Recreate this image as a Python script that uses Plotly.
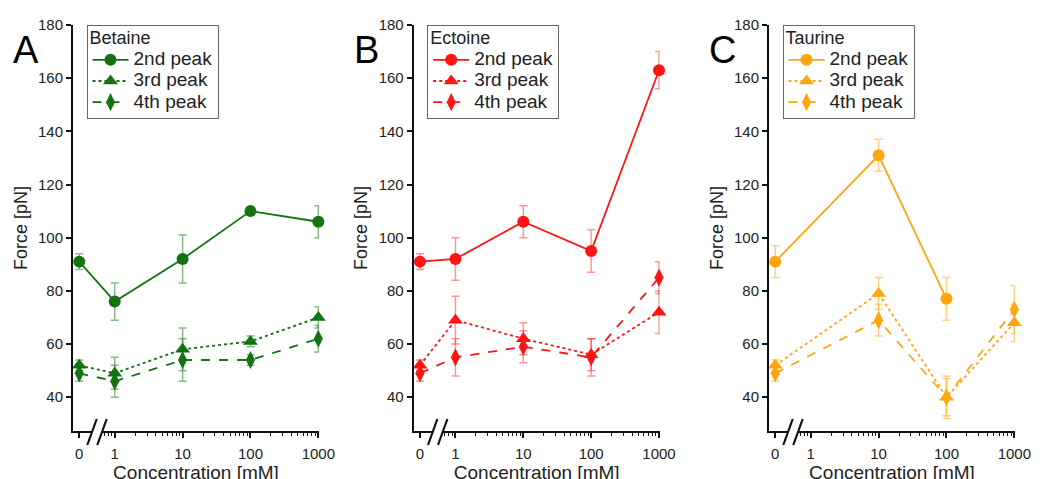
import plotly.graph_objects as go

# ---------------- data ----------------
concentrations = [0, 1, 10, 100, 1000]          # mM
ZERO_POS = 0.3                                   # where "0 mM" sits left of the axis break

tick_vals = [ZERO_POS, 1, 10, 100, 1000]
tick_text = ["0", "1", "10", "100", "1000"]
minor_vals = [0.7, 0.8, 0.9] + [m * d for d in (1, 10, 100) for m in range(2, 10)]

peaks = ["2nd peak", "3rd peak", "4th peak"]

betaine_2nd = [91, 76, 92, 110, 106]
betaine_2nd_err = [3, 7, 9, 1.5, 6]
betaine_3rd = [52, 49, 58, 61, 70]
betaine_3rd_err = [2, 6, 8, 2, 4]
betaine_4th = [49, 46, 54, 54, 62]
betaine_4th_err = [3, 6, 8, 2, 5]

ectoine_2nd = [91, 92, 106, 95, 163]
ectoine_2nd_err = [3, 8, 6, 8, 7]
ectoine_3rd = [52, 69, 62, 56, 72]
ectoine_3rd_err = [2, 9, 6, 6, 8]
ectoine_4th = [49, 55, 59, 55, 85]
ectoine_4th_err = [3, 7, 6, 7, 6]

taurine_2nd = [91, None, 131, 77, None]
taurine_2nd_err = [6, None, 6, 8, None]
taurine_3rd = [52, None, 79, 40, 68]
taurine_3rd_err = [2, None, 6, 8, 7]
taurine_4th = [49, None, 69, 40, 73]
taurine_4th_err = [3, None, 6, 7, 9]

panels = [
    dict(name="Betaine", letter="A", color="#137313", err="rgba(19,115,19,0.5)",
         series=[(betaine_2nd, betaine_2nd_err), (betaine_3rd, betaine_3rd_err), (betaine_4th, betaine_4th_err)]),
    dict(name="Ectoine", letter="B", color="#ff1414", err="rgba(255,20,20,0.45)",
         series=[(ectoine_2nd, ectoine_2nd_err), (ectoine_3rd, ectoine_3rd_err), (ectoine_4th, ectoine_4th_err)]),
    dict(name="Taurine", letter="C", color="#ffa60d", err="rgba(255,166,13,0.5)",
         series=[(taurine_2nd, taurine_2nd_err), (taurine_3rd, taurine_3rd_err), (taurine_4th, taurine_4th_err)]),
]

# ---------------- layout geometry (window pixels) ----------------
W, H = 1041, 479
OFF = 8  # page body margin offsets the figure inside the window


def px(xp):
    return (xp - OFF) / W


def py(yp):
    return 1 - (yp - OFF) / H


axis_left_px = [73, 413.7, 769]
axis_width_px = 246
plot_top_px, plot_bottom_px = 25, 431
ydom = [py(plot_bottom_px), py(plot_top_px)]

FONT = "Liberation Sans, Arial, Helvetica, sans-serif"
styles = [("solid", "circle", 12), ("dot", "triangle-up", 13), ("dash", "diamond-tall", 13)]


def big(t):
    return '<span style="font-size:19px">' + t + "</span>"


fig = go.Figure()
layout = dict(
    width=W, height=H, margin=dict(l=0, r=0, t=0, b=0, autoexpand=False),
    paper_bgcolor="white", plot_bgcolor="white",
    font=dict(family=FONT, size=15, color="#222"),
    showlegend=True,
)
shapes = []
annotations = []

for i, p in enumerate(panels):
    n = "" if i == 0 else str(i + 1)
    xa, ya = "x" + n, "y" + n
    lg = "legend" + n
    for k, (vals, errs) in enumerate(p["series"]):
        dash, sym, msize = styles[k]
        xs, ys, es = [], [], []
        for c, v, e in zip(concentrations, vals, errs):
            if v is None:
                continue
            xs.append(ZERO_POS if c == 0 else c)
            ys.append(v)
            es.append(e)
        fig.add_trace(go.Scatter(
            x=xs, y=ys, mode="lines+markers", name=big(peaks[k]),
            xaxis=xa, yaxis=ya, legend=lg,
            line=dict(color=p["color"], width=1.8, dash=dash),
            marker=dict(symbol=sym, size=msize, color=p["color"]),
            error_y=dict(type="data", array=es, visible=True, color=p["err"],
                         thickness=1.5, width=4),
            cliponaxis=False,
        ))

    layout["xaxis" + n] = dict(
        domain=[px(axis_left_px[i]), px(axis_left_px[i] + axis_width_px)],
        anchor=ya, type="log", range=[-0.615, 3.01], automargin=False,
        tickmode="array", tickvals=tick_vals, ticktext=tick_text,
        ticks="outside", ticklen=5, tickwidth=1.5, tickcolor="#111",
        minor=dict(tickmode="array", tickvals=minor_vals, ticks="outside",
                   ticklen=3, tickwidth=1.2, tickcolor="#111"),
        showline=True, linecolor="#111", linewidth=2, showgrid=False, zeroline=False,
        tickfont=dict(size=15, color="#222"), ticklabelstandoff=3,
        title=dict(text="Concentration [mM]", font=dict(size=19, color="#222"), standoff=4),
    )
    layout["yaxis" + n] = dict(
        domain=ydom, anchor=xa, range=[27.3, 180], automargin=False,
        tickmode="array", tickvals=[40, 60, 80, 100, 120, 140, 160, 180],
        ticks="outside", ticklen=5, tickwidth=1.5, tickcolor="#111",
        showline=True, linecolor="#111", linewidth=2, showgrid=False, zeroline=False,
        tickfont=dict(size=15, color="#222"), ticklabelstandoff=0,
        title=dict(text="Force [pN]", font=dict(size=18, color="#222"), standoff=6),
    )
    layout[lg] = dict(
        x=px(axis_left_px[i] + 13.5), y=py(plot_top_px), xanchor="left", yanchor="top",
        bgcolor="white", bordercolor="#666", borderwidth=1,
        font=dict(size=14, color="#222", family=FONT),
        title=dict(text='<span style="font-size:18px">' + p["name"] + "</span>",
                   font=dict(size=14, color="#222", family=FONT)),
        tracegroupgap=0, itemwidth=36,
    )
    annotations.append(dict(
        text=p["letter"], xref="paper", yref="paper",
        x=px(axis_left_px[i] - 47), y=py(50), xanchor="center", yanchor="middle",
        showarrow=False, font=dict(size=38, color="black", family=FONT),
    ))

    # axis break "//"
    ax0 = axis_left_px[i]
    yb = plot_bottom_px
    shapes.append(dict(type="rect", xref="paper", yref="paper", layer="above",
                       x0=px(ax0 + 18.5), x1=px(ax0 + 29),
                       y0=py(yb + 6), y1=py(yb - 2),
                       fillcolor="white", line=dict(width=0)))
    for off in (0, 10):
        shapes.append(dict(type="line", xref="paper", yref="paper", layer="above",
                           x0=px(ax0 + 14.3 + off), y0=py(yb + 14),
                           x1=px(ax0 + 23.7 + off), y1=py(yb - 12),
                           line=dict(color="#111", width=2.2)))

layout["shapes"] = shapes
layout["annotations"] = annotations
fig.update_layout(**layout)
fig.write_html("out.html")
